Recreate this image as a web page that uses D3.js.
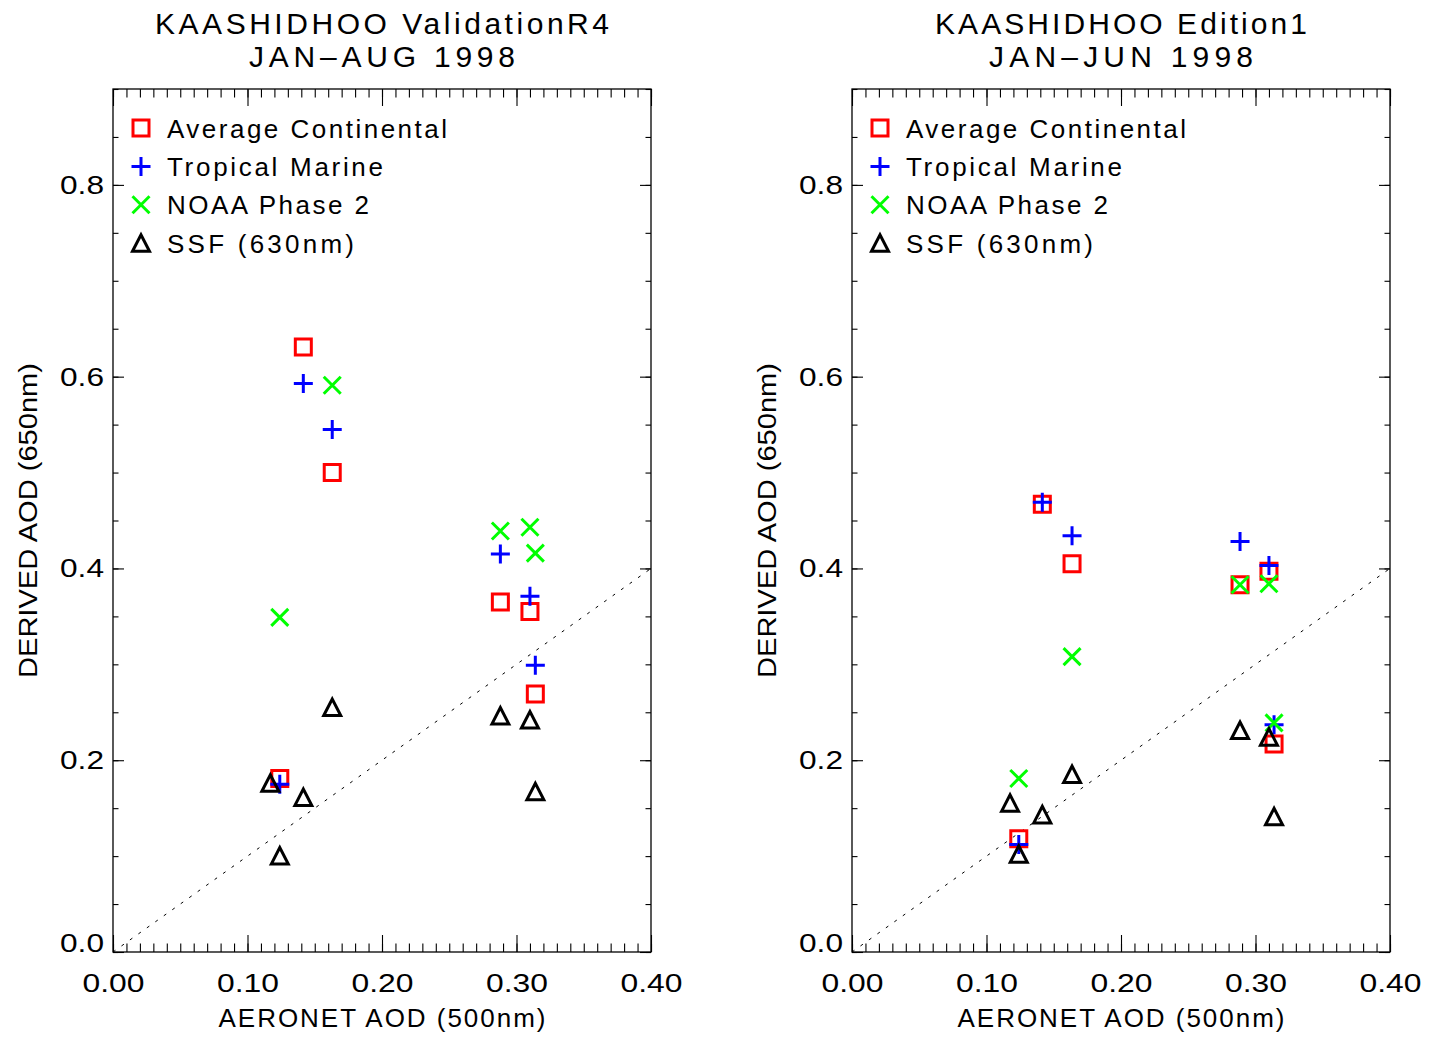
<!DOCTYPE html>
<html>
<head>
<meta charset="utf-8">
<script src="https://d3js.org/d3.v7.min.js"></script>
<style>
body { margin: 0; background: #fff; }
text { font-family: "Liberation Sans", Arial, sans-serif; fill: #000; }
</style>
</head>
<body>
<script>
// AERONET AOD (500nm) for each collocated day, one list per panel
var aeronetR4 = [0.117, 0.124, 0.1415, 0.163, 0.288, 0.310, 0.314];
var aeronetEd1 = [0.1175, 0.124, 0.1415, 0.1636, 0.2885, 0.310, 0.3138];

// derived AOD (650nm), ValidationR4 panel
var avgContR4 = [null, 0.181, 0.631, 0.500, 0.365, 0.355, 0.269];
var tropMarR4 = [null, 0.175, 0.593, 0.545, 0.415, 0.371, 0.299];
var noaaR4    = [null, 0.349, null, 0.591, 0.439, 0.443, 0.416];
var ssfR4     = [0.176, 0.100, 0.161, 0.255, 0.246, 0.242, 0.167];

// derived AOD (650nm), Edition1 panel
var avgContEd1 = [null, 0.118, 0.467, 0.405, 0.383, 0.397, 0.217];
var tropMarEd1 = [null, 0.112, 0.469, 0.434, 0.428, 0.403, 0.237];
var noaaEd1    = [null, 0.181, null, 0.308, 0.383, 0.384, 0.239];
var ssfEd1     = [0.155, 0.102, 0.143, 0.185, 0.231, 0.224, 0.141];

var legendNames = ["Average Continental", "Tropical Marine", "NOAA Phase 2", "SSF (630nm)"];
var xTicks = [0, 0.1, 0.2, 0.3, 0.4];
var yTicks = [0, 0.2, 0.4, 0.6, 0.8];

var width = 538, height = 863;

var svg = d3.select("body").append("svg")
	.attr("width", 1429)
	.attr("height", 1040);

// IDL style symbols
var symbols = [
	{ color: "#ff0000", path: "M-8,-8H8V8H-8Z" },
	{ color: "#0000ff", path: "M-9.5,0H9.5M0,-9.5V9.5" },
	{ color: "#00ff00", path: "M-8.5,-8.5L8.5,8.5M-8.5,8.5L8.5,-8.5" },
	{ color: "#000000", path: "M-8.5,8L0,-8.5L8.5,8Z" }
];

function drawPanel(left, title1, title2, t1len, t2len, xs, series) {
	var g = svg.append("g")
		.attr("transform", "translate(" + left + ",89)");

	var x = d3.scaleLinear().domain([0, 0.4]).range([0, width]);
	var y = d3.scaleLinear().domain([0, 0.9]).range([height, 0]);

	var minorX = d3.range(41).map((i) => i / 100);
	var minorY = d3.range(19).map((i) => i * 0.05);

	// minor ticks on all four sides
	g.append("g").attr("transform", "translate(0," + height + ")")
		.call(d3.axisBottom(x).tickValues(minorX).tickSize(-8.5).tickFormat(""));
	g.append("g")
		.call(d3.axisTop(x).tickValues(minorX).tickSize(-8.5).tickFormat(""));
	g.append("g")
		.call(d3.axisLeft(y).tickValues(minorY).tickSize(-5.5).tickFormat(""));
	g.append("g").attr("transform", "translate(" + width + ",0)")
		.call(d3.axisRight(y).tickValues(minorY).tickSize(-5.5).tickFormat(""));

	// major ticks
	var bottom = g.append("g").attr("class", "x axis")
		.attr("transform", "translate(0," + height + ")")
		.call(d3.axisBottom(x).tickValues(xTicks).tickSize(-17).tickFormat(d3.format(".2f")));
	bottom.selectAll("text")
		.attr("y", 40).attr("dy", null)
		.attr("font-size", "25px")
		.attr("textLength", 62).attr("lengthAdjust", "spacingAndGlyphs");
	g.append("g")
		.call(d3.axisTop(x).tickValues(xTicks).tickSize(-17).tickFormat(""));

	var leftAx = g.append("g").attr("class", "y axis")
		.call(d3.axisLeft(y).tickValues(yTicks).tickSize(-11).tickFormat(d3.format(".1f")));
	leftAx.selectAll("text")
		.attr("x", -9).attr("dy", null)
		.attr("y", (d) => d === 0 ? -0.5 : 8.5)
		.attr("font-size", "25px")
		.attr("textLength", 44).attr("lengthAdjust", "spacingAndGlyphs");
	g.append("g").attr("transform", "translate(" + width + ",0)")
		.call(d3.axisRight(y).tickValues(yTicks).tickSize(-11).tickFormat(""));

	g.selectAll(".domain").remove();
	g.selectAll(".tick line").attr("stroke", "#000").attr("stroke-width", 1.1);

	g.append("rect")
		.attr("width", width).attr("height", height)
		.attr("fill", "none").attr("stroke", "#000").attr("stroke-width", 1.3);

	// 1:1 line
	g.append("line")
		.attr("x1", x(0)).attr("y1", y(0))
		.attr("x2", x(0.4)).attr("y2", y(0.4))
		.attr("stroke", "#000").attr("stroke-width", 1)
		.attr("stroke-dasharray", "3,7.4");

	// titles
	g.append("text")
		.attr("x", width / 2).attr("y", -55)
		.attr("text-anchor", "middle").attr("font-size", "30px")
		.attr("textLength", t1len).attr("lengthAdjust", "spacing")
		.text(title1);
	g.append("text")
		.attr("x", width / 2).attr("y", -22)
		.attr("text-anchor", "middle").attr("font-size", "30px")
		.attr("textLength", t2len).attr("lengthAdjust", "spacing")
		.text(title2);

	g.append("text")
		.attr("x", width / 2).attr("y", height + 75)
		.attr("text-anchor", "middle").attr("font-size", "26px")
		.attr("textLength", 327).attr("lengthAdjust", "spacing")
		.text("AERONET AOD (500nm)");

	g.append("text")
		.attr("transform", "translate(-76," + (height / 2) + ") rotate(-90)")
		.attr("text-anchor", "middle").attr("font-size", "26px")
		.attr("textLength", 315).attr("lengthAdjust", "spacingAndGlyphs")
		.text("DERIVED AOD (650nm)");

	// legend
	var legLens = [280, 216, 202, 187];
	legendNames.forEach((name, i) => {
		var cy = 39 + i * 38.4;
		g.append("path")
			.attr("d", symbols[i].path)
			.attr("transform", "translate(28," + cy + ")")
			.attr("fill", "none").attr("stroke", symbols[i].color)
			.attr("stroke-width", 3);
		g.append("text")
			.attr("x", 54).attr("y", cy + 9.5)
			.attr("font-size", "26px")
			.attr("textLength", legLens[i]).attr("lengthAdjust", "spacing")
			.text(name);
	});

	// points
	series.forEach((vals, s) => {
		var pts = vals.map((v, i) => ({ x: xs[i], y: v })).filter((d) => d.y !== null);
		g.append("g").selectAll("path").data(pts)
			.enter()
			.append("path")
			.attr("d", symbols[s].path)
			.attr("transform", (d) => "translate(" + x(d.x) + "," + y(d.y) + ")")
			.attr("fill", "none")
			.attr("stroke", symbols[s].color)
			.attr("stroke-width", 3);
	});
}

drawPanel(113, "KAASHIDHOO ValidationR4", "JAN\u2013AUG 1998", 454, 266,
	aeronetR4, [avgContR4, tropMarR4, noaaR4, ssfR4]);
drawPanel(852, "KAASHIDHOO Edition1", "JAN\u2013JUN 1998", 372, 264,
	aeronetEd1, [avgContEd1, tropMarEd1, noaaEd1, ssfEd1]);
</script>
</body>
</html>
